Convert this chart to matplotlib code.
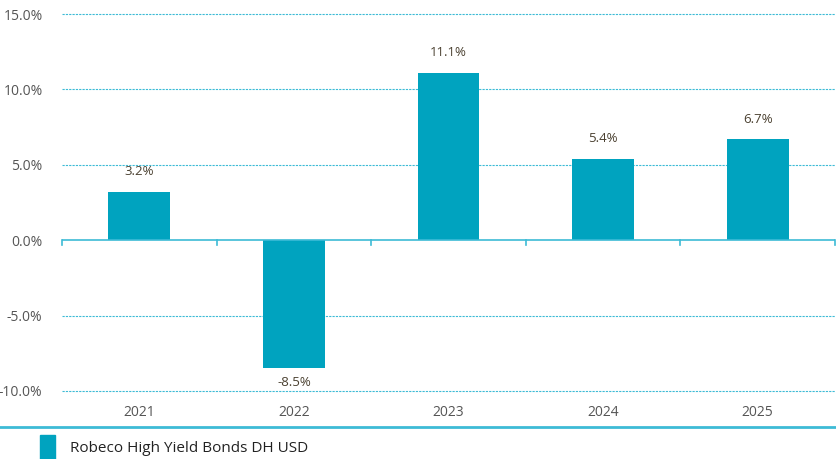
import matplotlib
matplotlib.use("Agg")
import matplotlib.pyplot as plt
from matplotlib.patches import Rectangle
from matplotlib.lines import Line2D

years = ["2021", "2022", "2023", "2024", "2025"]
returns = [3.2, -8.5, 11.1, 5.4, 6.7]
yticks = [-10, -5, 0, 5, 10, 15]
series_name = "Robeco High Yield Bonds DH USD"

BAR = "#00A3BF"
GRID = "#3DBBD6"
TEXT = "#555555"
LABEL = "#4A4030"

plt.rcParams["font.family"] = ["Open Sans", "DejaVu Sans"]

fig = plt.figure(figsize=(8.37, 4.59), dpi=100)
ax = fig.add_axes([62 / 837, 1 - 391 / 459, 773 / 837, 377 / 459])

x = list(range(len(years)))
ax.bar(x, returns, width=0.4, color=BAR, zorder=3)

ax.set_xlim(-0.5, len(years) - 0.5)
ax.set_ylim(-10, 15)
ax.set_yticks(yticks)
ax.set_yticklabels([f"{v:.1f}%" for v in yticks], color=TEXT, fontsize=10)
ax.set_xticks(x)
ax.set_xticklabels(years, color=TEXT, fontsize=10)
ax.tick_params(axis="both", length=0)
ax.tick_params(axis="x", pad=10)
ax.tick_params(axis="y", pad=14)
for s in ax.spines.values():
    s.set_visible(False)

for v in yticks:
    if v != 0:
        ax.axhline(v, color=GRID, lw=0.8, ls=(0, (2, 1)), zorder=1,
                   clip_on=False)
ax.axhline(0, color=GRID, lw=1.2, zorder=4)
for b in range(len(years) + 1):
    ax.plot([b - 0.5, b - 0.5], [0, -0.35], color=GRID, lw=1.2, zorder=4,
            clip_on=False)

for xi, v in zip(x, returns):
    off = 0.9 if v >= 0 else -0.5
    ax.text(xi, v + off, f"{v:.1f}%", ha="center",
            va="bottom" if v >= 0 else "top", fontsize=9.5, color=LABEL,
            zorder=5)

# legend strip under the chart
fig.add_artist(Line2D([0, 1], [1 - 427 / 459] * 2, color=GRID, lw=2,
                      transform=fig.transFigure))
fig.add_artist(Rectangle((40 / 837, 0), 15 / 837, 24 / 459, color=BAR,
                         transform=fig.transFigure))
fig.text(70 / 837, 1 - 449 / 459, series_name, fontsize=11, color="#222222",
         va="center")

fig.savefig("out.png", dpi=100, facecolor="white")
